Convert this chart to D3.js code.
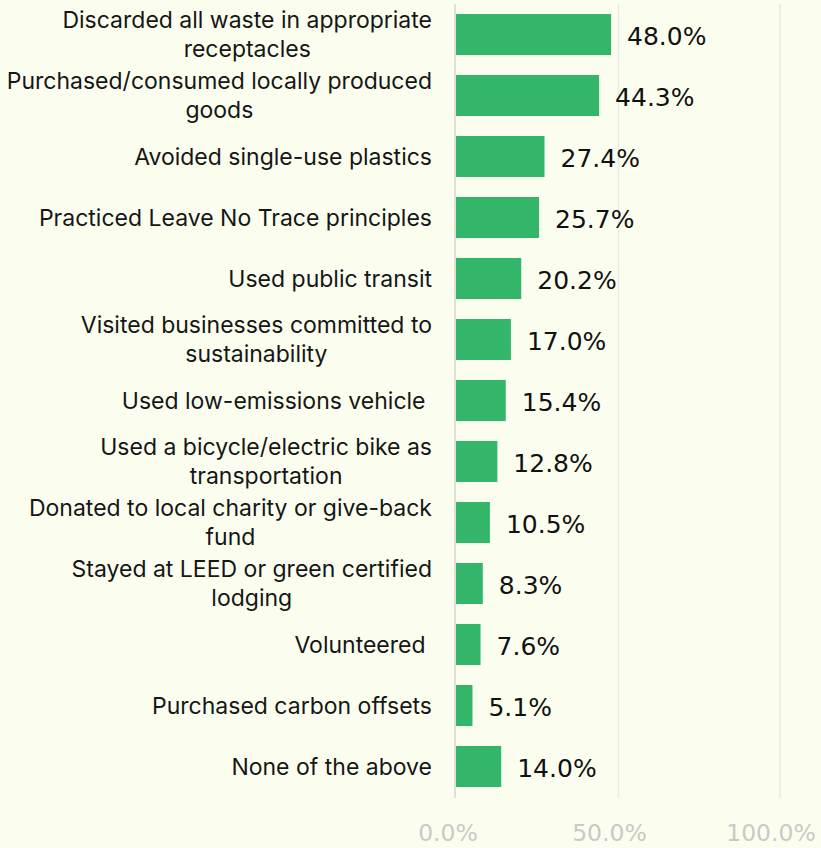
<!DOCTYPE html>
<html>
<head>
<meta charset="utf-8">
<script src="https://cdn.jsdelivr.net/npm/d3@7"></script>
<style>
  html, body { margin: 0; padding: 0; background: #fbfeef; }
  svg { display: block; }
  .cat { font-family: Inter, "Noto Sans", sans-serif; font-size: 23px; fill: #161616; white-space: pre; }
  .val { font-family: "DejaVu Sans", sans-serif; font-size: 25px; fill: #111; }
  .tick-label { font-family: "DejaVu Sans", sans-serif; font-size: 23.5px; fill: #c9c9c6; }
</style>
</head>
<body>
<svg width="821" height="848"></svg>
<script>
// categories (line breaks as in the original chart)
var categories = [
  ["Discarded all waste in appropriate", "receptacles"],
  ["Purchased/consumed locally produced", "goods"],
  ["Avoided single-use plastics"],
  ["Practiced Leave No Trace principles"],
  ["Used public transit"],
  ["Visited businesses committed to", "sustainability"],
  ["Used low-emissions vehicle "],
  ["Used a bicycle/electric bike as", "transportation"],
  ["Donated to local charity or give-back", "fund"],
  ["Stayed at LEED or green certified", "lodging"],
  ["Volunteered "],
  ["Purchased carbon offsets"],
  ["None of the above"]
];
var values = [48.0, 44.3, 27.4, 25.7, 20.2, 17.0, 15.4, 12.8, 10.5, 8.3, 7.6, 5.1, 14.0];
var tickValues = [0, 50, 100];

var svg = d3.select("svg"),
    plotLeft = 456,
    plotRight = 779,
    plotTop = 4,
    plotBottom = 798,
    labelRight = 432;

var x = d3.scaleLinear()
    .domain([0, 100])
    .range([plotLeft, plotRight]);

var y = d3.scaleBand()
    .domain(d3.range(categories.length))
    .range([plotTop, plotTop + 61 * categories.length])
    .paddingInner(20 / 61)
    .paddingOuter(10 / 61);

// grid lines
svg.append("g")
    .selectAll("line")
    .data(tickValues.slice(1))
    .enter().append("line")
    .attr("x1", function(d) { return x(d) + 1; })
    .attr("x2", function(d) { return x(d) + 1; })
    .attr("y1", plotTop)
    .attr("y2", plotBottom)
    .attr("stroke", "#e9e9e4")
    .attr("stroke-width", 1.5);

// bars
svg.append("g")
    .selectAll("rect")
    .data(values)
    .enter().append("rect")
    .attr("x", x(0))
    .attr("y", function(d, i) { return y(i); })
    .attr("width", function(d) { return x(d) - x(0); })
    .attr("height", y.bandwidth())
    .attr("fill", "#33b66a");

// zero axis line
svg.append("line")
    .attr("x1", x(0) - 1)
    .attr("x2", x(0) - 1)
    .attr("y1", plotTop)
    .attr("y2", plotBottom)
    .attr("stroke", "#d6d6d2")
    .attr("stroke-width", 1.5);

// value labels
svg.append("g")
    .selectAll("text")
    .data(values)
    .enter().append("text")
    .attr("class", "val")
    .attr("x", function(d) { return x(d) + 16; })
    .attr("y", function(d, i) { return y(i) + y.bandwidth() / 2 + 2; })
    .attr("dy", "0.35em")
    .text(function(d) { return d.toFixed(1) + "%"; });

// category labels: block right-aligned, lines centered within it
var cats = svg.append("g")
    .selectAll("text")
    .data(categories)
    .enter().append("text")
    .attr("class", "cat")
    .attr("text-anchor", "middle");

cats.each(function(lines, i) {
  var t = d3.select(this);
  var cy = y(i) + y.bandwidth() / 2;
  var lh = 29;
  var spans = lines.map(function(line, j) {
    return t.append("tspan")
      .attr("x", 0)
      .attr("y", cy + (j - (lines.length - 1) / 2) * lh)
      .attr("dy", "0.35em")
      .text(line);
  });
  var w = d3.max(spans, function(s) { return s.node().getComputedTextLength(); });
  spans.forEach(function(s) { s.attr("x", labelRight - w / 2); });
});

// x tick labels
svg.append("g")
    .selectAll("text")
    .data(tickValues)
    .enter().append("text")
    .attr("class", "tick-label")
    .attr("x", function(d) { return x(d) - 8; })
    .attr("y", 833)
    .attr("dy", "0.35em")
    .attr("text-anchor", "middle")
    .text(function(d) { return d.toFixed(1) + "%"; });
</script>
</body>
</html>
